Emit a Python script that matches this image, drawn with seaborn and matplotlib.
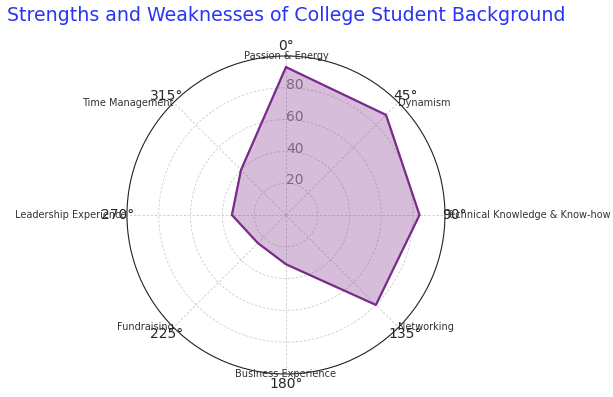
import numpy as np
import matplotlib.pyplot as plt
import matplotlib.transforms as mtransforms
import seaborn as sns

sns.set_style("white")

categories = ["Passion & Energy", "Dynamism", "Technical Knowledge & Know-how",
              "Networking", "Business Experience", "Fundraising",
              "Leadership Experience", "Time Management"]
scores = [93, 89, 84, 80, 31, 25, 34, 40]
r_ticks = [20, 40, 60, 80]

color = "#7a2a8a"

angles = np.linspace(0, 2 * np.pi, len(categories), endpoint=False)
# close the loop at 2*pi (not 0) so seaborn does not merge the two points
theta = np.append(angles, 2 * np.pi)
vals = np.append(scores, scores[0])

fig = plt.figure(figsize=(6.13, 3.97), dpi=100)
ax = fig.add_axes([0.207, 0.058, 0.519, 0.801], projection="polar")
ax.set_theta_zero_location("N")
ax.set_theta_direction(-1)

sns.lineplot(x=theta, y=vals, ax=ax, color=color, lw=1.6, sort=False)
ax.fill(theta, vals, color=color, alpha=0.3)

ax.set_ylim(0, 100)
ax.set_yticks(r_ticks)
ax.set_yticklabels([str(t) for t in r_ticks], color="grey", fontsize=10)
ax.set_rlabel_position(0)
shift = mtransforms.ScaledTranslation(0, -3 / 72, fig.dpi_scale_trans)
for lbl in ax.get_yticklabels():
    lbl.set_transform(lbl.get_transform() + shift)
ax.set_xticks(angles)
ax.set_xticklabels([f"{int(round(np.degrees(a)))}°" for a in angles], fontsize=10)
ax.tick_params(axis="x", pad=-3.5)
ax.grid(True, color="#cccccc", linestyle=(0, (3, 2)), lw=0.6)
ax.spines["polar"].set_color("#222222")

# category names around the outside
for a, name in zip(angles, categories):
    deg = np.degrees(a) % 360
    if deg == 0 or deg == 180:
        ha = "center"
    elif deg < 180:
        ha = "left"
    else:
        ha = "right"
    ax.text(a, 100, name, ha=ha, va="center", fontsize=7, color="#333333")

fig.text(0.012, 0.962, "Strengths and Weaknesses of College Student Background",
         fontsize=13.7, color="#2a35f2", ha="left", va="center")

fig.savefig("out.png", dpi=100)
